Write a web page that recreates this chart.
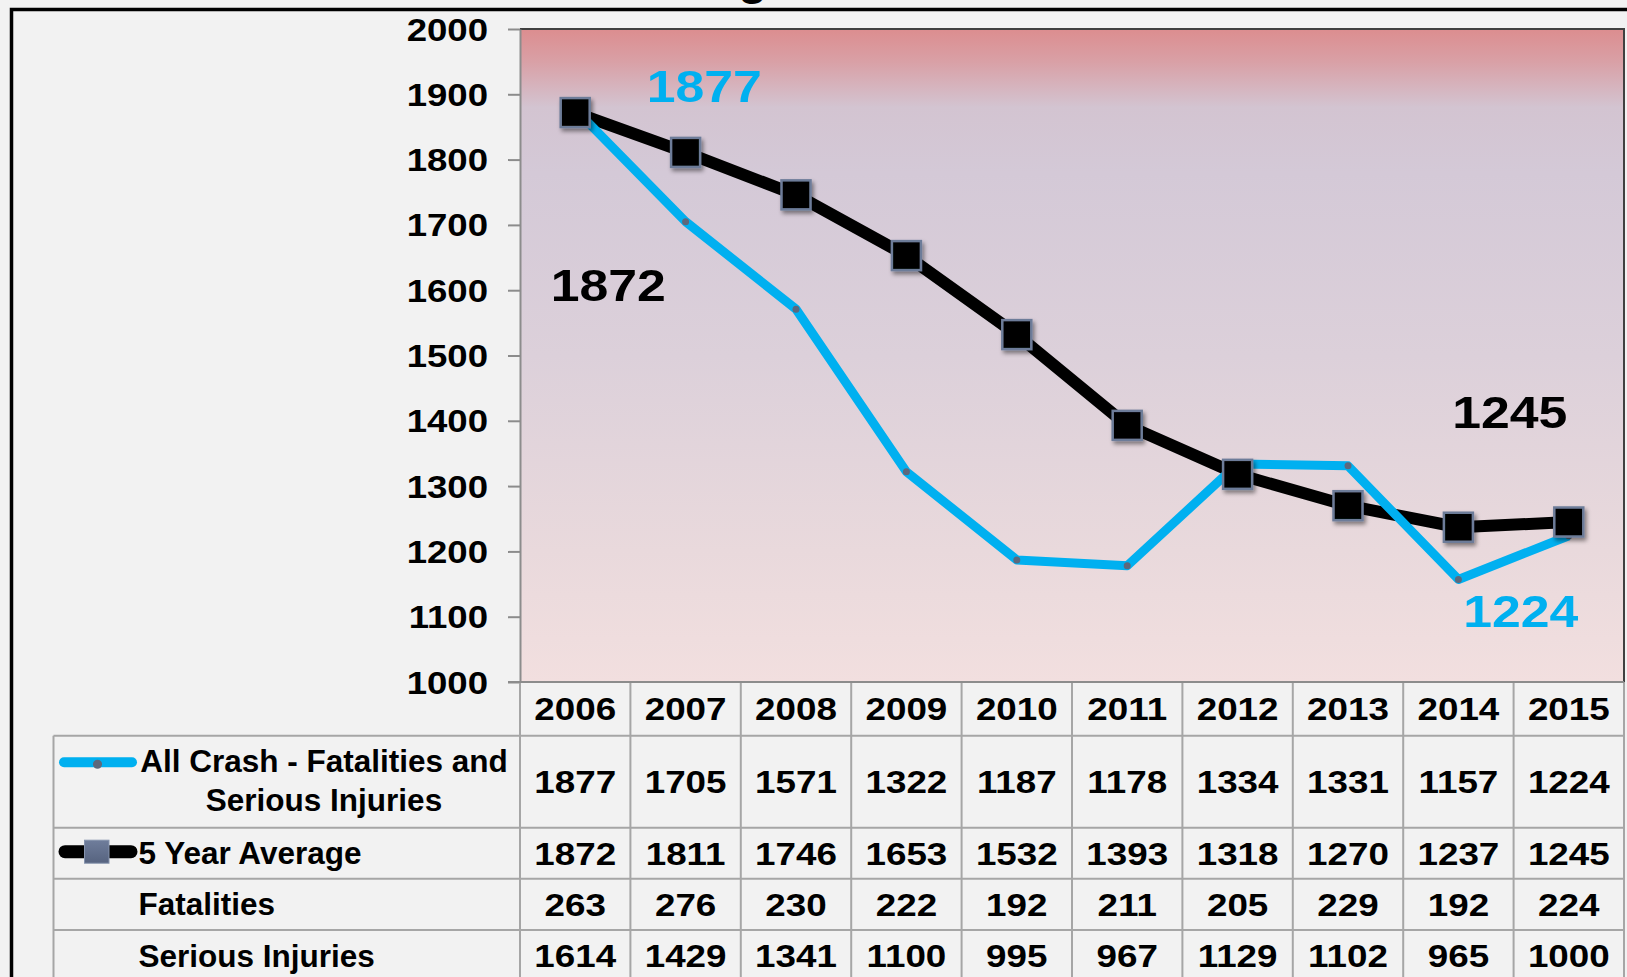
<!DOCTYPE html>
<html>
  <head>
    <meta charset="UTF-8" />
    <title>All Crash - Fatalities and Serious Injuries</title>
    <script src="https://cdn.jsdelivr.net/npm/d3@7"></script>
    <style>
      html,
      body {
        margin: 0;
        padding: 0;
        background: #f2f2f2;
        overflow: hidden;
      }
      svg text {
        font-family: "Liberation Sans", Arial, sans-serif;
        font-weight: bold;
      }
    </style>
  </head>
  <body>
    <div class="chart"></div>

    <script>
      // chart values
      let years = [2006, 2007, 2008, 2009, 2010, 2011, 2012, 2013, 2014, 2015];
      let allCrash = [1877, 1705, 1571, 1322, 1187, 1178, 1334, 1331, 1157, 1224];
      let fiveYearAvg = [1872, 1811, 1746, 1653, 1532, 1393, 1318, 1270, 1237, 1245];
      let fatalities = [263, 276, 230, 222, 192, 211, 205, 229, 192, 224];
      let seriousInjuries = [1614, 1429, 1341, 1100, 995, 967, 1129, 1102, 965, 1000];
      let yTicks = [1000, 1100, 1200, 1300, 1400, 1500, 1600, 1700, 1800, 1900, 2000];

      let width = 1627;
      let height = 977;
      let plot = { left: 520, right: 1624, top: 29, bottom: 682 };
      let digitStretch = 1.15; // digits in the source are wider than Arial's

      let blue = "#00b0f0";

      let svg = d3
        .select(".chart")
        .append("svg")
        .attr("width", width)
        .attr("height", height);

      let defs = svg.append("defs");
      let grad = defs
        .append("linearGradient")
        .attr("id", "plotBg")
        .attr("x1", 0)
        .attr("y1", 0)
        .attr("x2", 0)
        .attr("y2", 1);
      [
        [0, "#dc8d8f"],
        [0.05, "#d9a0a6"],
        [0.12, "#d3c4d1"],
        [0.22, "#d4c9d7"],
        [0.5, "#dcd0da"],
        [0.8, "#e9d9dc"],
        [1, "#f2dfdf"],
      ].forEach((s) => {
        grad.append("stop").attr("offset", s[0]).attr("stop-color", s[1]);
      });

      let markGrad = defs
        .append("linearGradient")
        .attr("id", "keyMark")
        .attr("x1", 0)
        .attr("y1", 0)
        .attr("x2", 0)
        .attr("y2", 1);
      markGrad.append("stop").attr("offset", 0).attr("stop-color", "#6f7d9b");
      markGrad.append("stop").attr("offset", 1).attr("stop-color", "#56637f");

      defs
        .append("filter")
        .attr("id", "shadow")
        .attr("x", "-50%")
        .attr("y", "-50%")
        .attr("width", "200%")
        .attr("height", "200%")
        .append("feDropShadow")
        .attr("dx", 2)
        .attr("dy", 3)
        .attr("stdDeviation", 2)
        .attr("flood-color", "#000")
        .attr("flood-opacity", 0.45);

      // outer frame (runs off the page right and bottom)
      svg
        .append("rect")
        .attr("x", 11.5)
        .attr("y", 9.5)
        .attr("width", width + 50)
        .attr("height", height + 50)
        .attr("fill", "#f2f2f2")
        .attr("stroke", "#000")
        .attr("stroke-width", 3.5);

      // title sits above the page, only the tail of a "g" shows
      svg
        .append("text")
        .attr("x", 738)
        .attr("y", -6)
        .attr("font-size", 48)
        .attr("fill", "#000")
        .text("g");

      // scales
      let x = d3
        .scaleBand()
        .domain(years)
        .range([plot.left, plot.right]);

      let y = d3
        .scaleLinear()
        .domain([1000, 2000])
        .range([plot.bottom, plot.top]);

      let cx = (d, i) => x(years[i]) + x.bandwidth() / 2;

      // plot area
      svg
        .append("rect")
        .attr("x", plot.left)
        .attr("y", plot.top)
        .attr("width", plot.right - plot.left)
        .attr("height", plot.bottom - plot.top)
        .attr("fill", "url(#plotBg)");

      svg
        .append("path")
        .attr(
          "d",
          `M${plot.left},${plot.top}H${plot.right}V${plot.bottom}`
        )
        .attr("fill", "none")
        .attr("stroke", "#404040")
        .attr("stroke-width", 2);

      // y axis
      let yAxis = svg
        .append("g")
        .attr("transform", `translate(${plot.left},0)`)
        .call(
          d3
            .axisLeft(y)
            .tickValues(yTicks)
            .tickFormat(d3.format("d"))
            .tickSize(12)
            .tickSizeOuter(0)
        );

      yAxis.select(".domain").attr("stroke", "#8c8c8c").attr("stroke-width", 2);
      yAxis.selectAll(".tick line").attr("stroke", "#8c8c8c").attr("stroke-width", 2);
      yAxis
        .selectAll(".tick text")
        .attr("x", null)
        .attr("dy", null)
        .attr("y", 11)
        .attr("transform", "translate(-32,0) scale(1.18,1)")
        .attr("font-size", 31)
        .attr("font-family", "Liberation Sans, Arial, sans-serif")
        .attr("font-weight", "bold")
        .attr("fill", "#000");

      // lines
      let line = d3
        .line()
        .x(cx)
        .y((d) => y(d));

      svg
        .append("path")
        .datum(fiveYearAvg)
        .attr("fill", "none")
        .attr("stroke", "#000")
        .attr("stroke-width", 12)
        .attr("stroke-linejoin", "round")
        .attr("d", line);

      svg
        .append("path")
        .datum(allCrash)
        .attr("fill", "none")
        .attr("stroke", blue)
        .attr("stroke-width", 9)
        .attr("stroke-linejoin", "round")
        .attr("d", line);

      svg
        .append("g")
        .selectAll("circle")
        .data(allCrash)
        .enter()
        .append("circle")
        .attr("cx", cx)
        .attr("cy", (d) => y(d))
        .attr("r", 3.5)
        .attr("fill", "#5d687c");

      let mark = 29;
      svg
        .append("g")
        .attr("filter", "url(#shadow)")
        .selectAll("rect")
        .data(fiveYearAvg)
        .enter()
        .append("rect")
        .attr("x", (d, i) => cx(d, i) - mark / 2)
        .attr("y", (d) => y(d) - mark / 2)
        .attr("width", mark)
        .attr("height", mark)
        .attr("fill", "#000")
        .attr("stroke", "#6d7c99")
        .attr("stroke-width", 2.5);

      // stretched number text
      function num(g, value, px, py, size, color, anchor) {
        g.append("text")
          .attr("transform", `translate(${px},${py}) scale(${digitStretch},1)`)
          .attr("text-anchor", anchor || "middle")
          .attr("font-size", size)
          .attr("fill", color)
          .text(value);
      }

      // data labels: first and last point of each series
      let notes = svg.append("g");
      let last = years.length - 1;
      num(notes, allCrash[0], cx(0, 0) + 129, y(allCrash[0]) - 7, 45, blue);
      num(notes, fiveYearAvg[0], cx(0, 0) + 33, y(fiveYearAvg[0]) + 188, 45, "#000");
      num(notes, fiveYearAvg[last], cx(0, last) - 59, y(fiveYearAvg[last]) - 94, 45, "#000");
      num(notes, allCrash[last], cx(0, last) - 48, y(allCrash[last]) + 91, 45, blue);

      // data table
      let rows = [
        { label: ["All Crash - Fatalities and", "Serious Injuries"], values: allCrash, h: 92 },
        { label: ["5 Year Average"], values: fiveYearAvg, h: 51 },
        { label: ["Fatalities"], values: fatalities, h: 51.3 },
        { label: ["Serious Injuries"], values: seriousInjuries, h: 51.5 },
      ];
      let headH = 53.7;
      let tableLeft = 53.5;
      let grid = "#a6a6a6";
      let table = svg.append("g");

      let rowTop = plot.bottom + headH;
      rows.forEach((r) => {
        r.y0 = rowTop;
        rowTop += r.h;
      });

      // header row: years
      years.forEach((yr) => {
        num(table, yr, x(yr) + x.bandwidth() / 2, plot.bottom + headH / 2 + 11.5, 32, "#000");
      });

      rows.forEach((r) => {
        let mid = r.y0 + r.h / 2;
        r.values.forEach((v, i) => {
          num(table, v, x(years[i]) + x.bandwidth() / 2, mid + 11.5, 32, "#000");
        });
        table
          .append("line")
          .attr("x1", tableLeft)
          .attr("x2", plot.right)
          .attr("y1", r.y0)
          .attr("y2", r.y0)
          .attr("stroke", grid)
          .attr("stroke-width", 2);
      });

      // column lines
      years.concat(["end"]).forEach((yr, i) => {
        let lx = i < years.length ? x(yr) : plot.right;
        table
          .append("line")
          .attr("x1", lx)
          .attr("x2", lx)
          .attr("y1", plot.bottom)
          .attr("y2", height + 5)
          .attr("stroke", grid)
          .attr("stroke-width", 2);
      });
      table
        .append("line")
        .attr("x1", tableLeft)
        .attr("x2", tableLeft)
        .attr("y1", rows[0].y0)
        .attr("y2", height + 5)
        .attr("stroke", grid)
        .attr("stroke-width", 2);

      // plot bottom edge, with the 1000 tick
      table
        .append("line")
        .attr("x1", plot.left - 12)
        .attr("x2", plot.right)
        .attr("y1", plot.bottom)
        .attr("y2", plot.bottom)
        .attr("stroke", "#8c8c8c")
        .attr("stroke-width", 2);

      // row labels
      let r0 = rows[0];
      table
        .append("text")
        .attr("x", 324)
        .attr("y", r0.y0 + 36)
        .attr("text-anchor", "middle")
        .attr("font-size", 31.5)
        .text(r0.label[0]);
      table
        .append("text")
        .attr("x", 324)
        .attr("y", r0.y0 + 75)
        .attr("text-anchor", "middle")
        .attr("font-size", 31.5)
        .text(r0.label[1]);
      rows.slice(1).forEach((r) => {
        table
          .append("text")
          .attr("x", 138.5)
          .attr("y", r.y0 + r.h / 2 + 11)
          .attr("font-size", 31.5)
          .text(r.label[0]);
      });

      // legend keys
      let k1 = r0.y0 + 26.5;
      table
        .append("line")
        .attr("x1", 64)
        .attr("x2", 132)
        .attr("y1", k1)
        .attr("y2", k1)
        .attr("stroke", blue)
        .attr("stroke-width", 10)
        .attr("stroke-linecap", "round");
      table
        .append("circle")
        .attr("cx", 97.5)
        .attr("cy", k1 + 2)
        .attr("r", 4.5)
        .attr("fill", "#5d687c");

      let k2 = rows[1].y0 + 24;
      table
        .append("line")
        .attr("x1", 65)
        .attr("x2", 131)
        .attr("y1", k2)
        .attr("y2", k2)
        .attr("stroke", "#000")
        .attr("stroke-width", 13)
        .attr("stroke-linecap", "round");
      table
        .append("rect")
        .attr("x", 84.5)
        .attr("y", k2 - 11.5)
        .attr("width", 24.5)
        .attr("height", 23)
        .attr("fill", "url(#keyMark)")
        .attr("stroke", "#8593ad")
        .attr("stroke-width", 1);
    </script>
  </body>
</html>
